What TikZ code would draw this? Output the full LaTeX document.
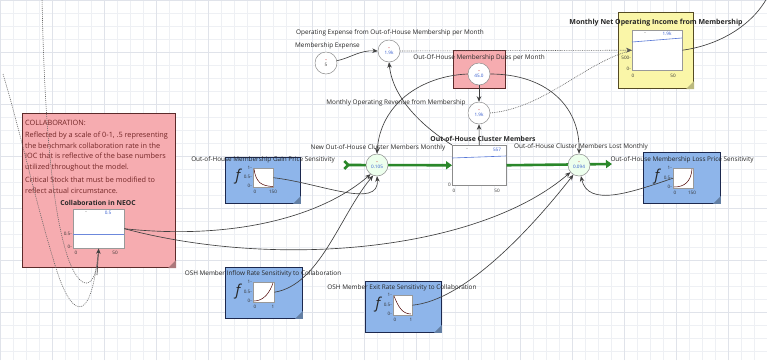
\documentclass[tikz,border=0pt]{standalone}
\usepackage{fontspec}
\setmainfont{Open Sans}
\usetikzlibrary{arrows.meta,calc}
\definecolor{gridc}{RGB}{238,240,244}
\definecolor{gridm}{RGB}{224,227,234}
\definecolor{notefill}{RGB}{246,172,176}
\definecolor{noteline}{RGB}{92,42,42}
\definecolor{notetext}{RGB}{115,38,38}
\definecolor{gffill}{RGB}{142,181,234}
\definecolor{gfline}{RGB}{28,40,78}
\definecolor{yelfill}{RGB}{250,246,168}
\definecolor{yelline}{RGB}{85,75,35}
\definecolor{flowg}{RGB}{42,135,42}
\definecolor{valblue}{RGB}{45,85,205}
\definecolor{dashred}{RGB}{200,50,50}
\begin{document}
\begin{tikzpicture}[x=1pt,y=-1pt,
  lbl/.style={font=\fontsize{6.4}{7.5}\selectfont, text=black!85, inner sep=0},
  ttl/.style={font=\bfseries\fontsize{6.8}{7.5}\selectfont, text=black!85, inner sep=0},
  tiny/.style={font=\fontsize{4.6}{5}\selectfont, text=black!80, inner sep=0},
  tinyb/.style={tiny, text=valblue},
  conv/.style={circle, draw=black!45, fill=white, line width=0.5, minimum size=22pt, inner sep=0, align=center, font=\fontsize{4.6}{5.4}\selectfont},
  valve/.style={conv, fill=green!7},
  gfbox/.style={draw=gfline, fill=gffill, line width=0.9, anchor=north west, inner sep=0},
  graphbox/.style={draw=black!40, fill=white, line width=0.4, anchor=north west, inner sep=0},
  fsym/.style={font=\itshape\fontsize{15}{15}\selectfont, text=black!85, inner sep=0},
  conn/.style={draw=black!75, line width=0.65, -{Stealth[length=5.5pt,width=4.5pt]}},
  dotc/.style={draw=black!65, line width=0.6, dash pattern=on 0.8pt off 1pt},
  loopc/.style={draw=black!60, line width=0.6, dash pattern=on 1pt off 1pt},
  flowc/.style={draw=flowg, line width=2.6, -{Triangle[length=6pt,width=8pt]}}
]
\useasboundingbox (0,0) rectangle (767,360);
\fill[white] (0,0) rectangle (767,360);
\draw[gridc, line width=0.4] (0,0) grid[step=13pt] (767,360);
\draw[gridm, line width=0.5] (0,0) grid[step=52pt] (767,360);

% ---------- note box ----------
\node[draw=noteline, fill=notefill, line width=1, minimum width=153pt, minimum height=154pt, anchor=north west, inner sep=0] (note) at (22,113) {};
\fill[notefill!70!black] (note.south east) -- ++(-8,0) -- ++(8,-8) -- cycle;
\node[lbl, text=notetext, anchor=west, font=\fontsize{7.3}{10.5}\selectfont] (notet) at (25,123) {COLLABORATION:};
\node[lbl, text=notetext, anchor=north west, align=left, font=\fontsize{7.3}{10.5}\selectfont] (notep1) at (25,132) {Reflected by a scale of 0-1, .5 representing\\the benchmark collaboration rate in the\\IOC that is reflective of the base numbers\\utilized throughout the model.};
\node[lbl, text=notetext, anchor=north west, align=left, font=\fontsize{7.3}{10.5}\selectfont] (notep2) at (25,177) {Critical Stock that must be modified to\\reflect actual circumstance.};
\node[ttl] (collabt) at (98,203) {Collaboration in NEOC};
\node[graphbox, minimum width=51pt, minimum height=39pt] (collabg) at (73,209) {};
\draw[valblue!70, line width=0.7] (73,234) -- (124,234);
\node[tiny] (c1) at (86,213) {-};
\node[tinyb] (c2) at (108,213) {0.5};
\node[tiny, anchor=east] (c3) at (72,234) {0.5-};
\node[tiny, anchor=east] (c4) at (72,247) {0-};
\node[tiny] (c5) at (76,253) {0};
\node[tiny] (c6) at (115,253) {50};

% ---------- dashed loops ----------
\draw[loopc] (42,-2) .. controls (44,100) and (50,205) .. (68,258) .. controls (80,292) and (96,292) .. (98,254);
\draw[loopc] (3,74) .. controls (20,130) and (35,200) .. (55,265) .. controls (70,315) and (90,330) .. (98,254);
\draw[conn] (97,275) -- (collabg.south);

% ---------- flows ----------
\coordinate (src) at (343,165);
\coordinate (snk) at (612,164);
\node[draw=black!45, fill=white, line width=0.5, minimum width=54pt, minimum height=40pt, anchor=north west, inner sep=0] (stock) at (452,145) {};
\draw[flowc, {Straight Barb[reversed,length=4pt,width=8pt]}-{Triangle[length=6pt,width=8pt]}] (src) -- (stock.west);
\draw[flowc] (stock.east) -- (snk);
\draw[valblue!80, line width=0.6] (452,158) -- (506,156);
\node[tiny] (s1) at (467,150) {-};
\node[tinyb] (s2) at (497,150) {557};
\node[tiny, anchor=east] (s3) at (451,185) {0};
\node[tiny] (s4) at (454,191) {0};
\node[tiny] (s5) at (497,191) {50};
\node[ttl] (stockt) at (483,139) {Out-of-House Cluster Members};

\node[valve] (newf) at (377,165) {{\color{dashred}\textbf{-}}\\{\color{valblue}0.105}};
\node[lbl] (newt) at (378,148) {New Out-of-House Cluster Members Monthly};
\node[valve] (lost) at (579,165) {{\color{dashred}\textbf{-}}\\{\color{valblue}0.094}};
\node[lbl] (lostt) at (581,147) {Out-of-House Cluster Members Lost Monthly};

% ---------- top converters ----------
\node[conv] (memexp) at (326,63) {{\color{dashred}\textbf{-}}\\{\color{black!80}5}};
\node[lbl, anchor=west] (memexpt) at (295,46) {Membership Expense};
\node[conv] (opexp) at (389,51) {{\color{dashred}\textbf{-}}\\{\color{valblue}1.9k}};
\node[lbl] (opexpt) at (390,33) {Operating Expense from Out-of-House Membership per Month};
\node[draw=noteline, fill=notefill, line width=1, minimum width=52pt, minimum height=38pt, anchor=north west, inner sep=0] (duesbox) at (453,50) {};
\node[lbl] (duest) at (479,58) {Out-Of-House Membership Dues per Month};
\node[conv] (dues) at (479,74) {{\color{dashred}\textbf{-}}\\{\color{valblue}45.0}};
\node[conv] (rev) at (479,113) {{\color{dashred}\textbf{-}}\\{\color{valblue}1.9k}};
\node[lbl] (revt) at (396,103) {Monthly Operating Revenue from Membership};

% ---------- yellow output ----------
\node[draw=yelline, fill=yelfill, line width=1, minimum width=75pt, minimum height=76pt, anchor=north west, inner sep=0] (ybox) at (618,12) {};
\fill[yelfill!75!black] (ybox.south east) -- ++(-8,0) -- ++(8,-8) -- cycle;
\node[graphbox, minimum width=50pt, minimum height=40pt] (yg) at (632,30) {};
\draw[valblue!80, line width=0.6] (632,42) -- (682,38);
\node[tiny] (y1) at (645,34) {-};
\node[tinyb] (y2) at (667,34) {1.9k};
\node[tiny, anchor=east] (y3) at (631,58) {500-};
\node[tiny, anchor=east] (y4) at (631,69) {0-};
\node[tiny] (y5) at (633,76) {0};
\node[tiny] (y6) at (673,76) {50};
\node[ttl, font=\bfseries\fontsize{7}{7.5}\selectfont] (ytitle) at (656,23) {Monthly Net Operating Income from Membership};
\coordinate (yout) at (767,-2);

% ---------- graphical function boxes ----------
% gain
\node[gfbox, minimum width=75pt, minimum height=46pt] (gain) at (225,157) {};
\fill[gffill!70!black] (gain.south east) -- ++(-8,0) -- ++(8,-8) -- cycle;
\node[graphbox, minimum width=20pt, minimum height=19pt] (gaing) at (253,168) {};
\draw[black!70!red, line width=0.5] (254,169) .. controls (256,183) and (262,186) .. (273,186.5);
\node[fsym] (gainf) at (238,177) {f};
\node[tiny, anchor=east] (g1) at (252,168) {1-};
\node[tiny, anchor=east] (g2) at (252,177) {0.5-};
\node[tiny, anchor=east] (g3) at (252,186) {0-};
\node[tiny] (g4) at (255,192) {0};
\node[tiny] (g5) at (273,192) {150};
\node[lbl] (gaint) at (263,160) {Out-of-House Membership Gain Price Sensitivity};
% loss
\node[gfbox, minimum width=77pt, minimum height=51pt] (loss) at (643,152) {};
\fill[gffill!70!black] (loss.south east) -- ++(-8,0) -- ++(8,-8) -- cycle;
\node[graphbox, minimum width=20pt, minimum height=20pt] (lossg) at (673,168) {};
\draw[black!70!red, line width=0.5] (674,187) .. controls (684,187) and (691,182) .. (692,169);
\node[fsym] (lossf) at (657,177) {f};
\node[tiny, anchor=east] (l1) at (672,168) {1-};
\node[tiny, anchor=east] (l2) at (672,178) {0.5-};
\node[tiny, anchor=east] (l3) at (672,187) {0-};
\node[tiny] (l4) at (675,193) {0};
\node[tiny] (l5) at (692,193) {150};
\node[lbl] (losst) at (682,160) {Out-of-House Membership Loss Price Sensitivity};
% inflow
\node[gfbox, minimum width=77pt, minimum height=51pt] (inflow) at (225,267) {};
\fill[gffill!70!black] (inflow.south east) -- ++(-8,0) -- ++(8,-8) -- cycle;
\node[graphbox, minimum width=21pt, minimum height=20pt] (inflowg) at (253,282) {};
\draw[black!70!red, line width=0.5] (254,301) .. controls (264,301) and (270,292) .. (273,283);
\node[fsym] (inflowf) at (238,292) {f};
\node[tiny, anchor=east] (i1) at (252,282) {1-};
\node[tiny, anchor=east] (i2) at (252,292) {0.5-};
\node[tiny, anchor=east] (i3) at (252,301) {0-};
\node[tiny] (i4) at (255,307) {0};
\node[tiny] (i5) at (273,307) {1};
\node[lbl] (inflowt) at (263,274) {OSH Member Inflow Rate Sensitivity to Collaboration};
% exit
\node[gfbox, minimum width=76pt, minimum height=51pt] (exit) at (365,281) {};
\fill[gffill!70!black] (exit.south east) -- ++(-8,0) -- ++(8,-8) -- cycle;
\node[graphbox, minimum width=19pt, minimum height=20pt] (exitg) at (393,295) {};
\draw[black!70!red, line width=0.5] (394,296) .. controls (398,306) and (402,314) .. (411,314);
\node[fsym] (exitf) at (378,305) {f};
\node[tiny, anchor=east] (e1) at (392,295) {1-};
\node[tiny, anchor=east] (e2) at (392,305) {0.5-};
\node[tiny, anchor=east] (e3) at (392,314) {0-};
\node[tiny] (e4) at (395,320) {0};
\node[tiny] (e5) at (411,320) {1};
\node[lbl] (exitt) at (402,288) {OSH Member Exit Rate Sensitivity to Collaboration};

% ---------- connectors ----------
\draw[conn] (memexp) .. controls (350,58) and (360,50) .. (opexp.west);
\draw[conn] (stock.north west) .. controls (425,128) and (393,100) .. (opexp.south);
\draw[conn] (dues.south) -- (rev.north);
\draw[conn] (stock.north) -- (rev.south);
\draw[conn] (dues.west) .. controls (420,76) and (380,105) .. (newf.north);
\draw[conn] (dues.east) .. controls (545,74) and (580,105) .. (lost.north);
\draw[dotc, -{Stealth[length=6pt,width=5pt]}] (opexp.east) -- (yg.west);
\draw[dotc] (rev.east) .. controls (545,108) and (585,62) .. (yg.west);
\draw[draw=black!75, line width=0.65] (yg.east) .. controls (720,45) and (752,25) .. (yout);
\draw[conn] (gaing.east) .. controls (320,183) and (380,210) .. (newf.south);
\draw[conn] (collabg.east) .. controls (230,240) and (320,218) .. (newf.-125);
\draw[conn] (inflowg.east) .. controls (320,285) and (340,215) .. (newf.-110);
\draw[conn] (collabg.east) .. controls (280,270) and (480,250) .. (lost.-140);
\draw[conn] (exitg.east) .. controls (465,300) and (530,230) .. (lost.-120);
\draw[conn] (lossg.west) .. controls (632,192) and (588,208) .. (lost.-80);
\end{tikzpicture}
\end{document}
